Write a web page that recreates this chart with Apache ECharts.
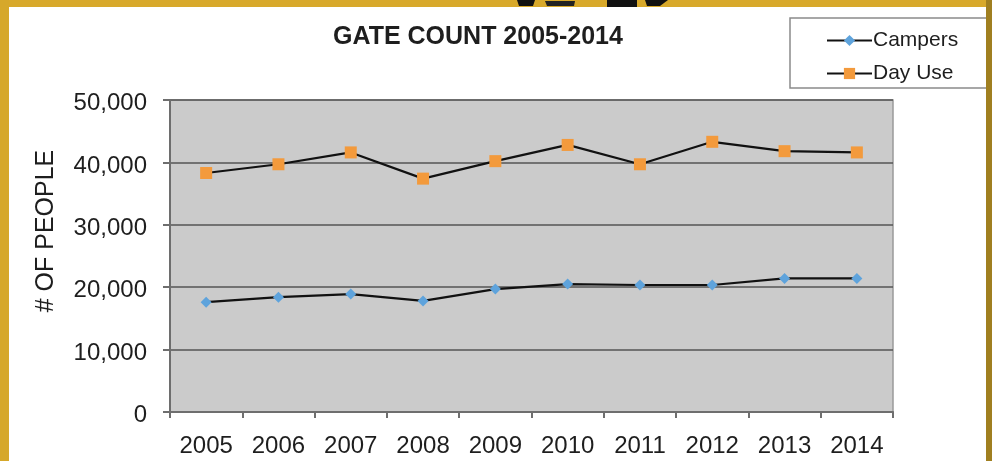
<!DOCTYPE html>
<html>
<head>
<meta charset="utf-8">
<script src="https://cdn.jsdelivr.net/npm/echarts@6/dist/echarts.min.js"></script>
<style>html,body{margin:0;padding:0;background:#fff;}#c{width:992px;height:461px;}</style>
</head>
<body>
<div id="c"></div>
<script>
const categories = ['2005','2006','2007','2008','2009','2010','2011','2012','2013','2014'];
const campers = [17600, 18400, 18900, 17800, 19700, 20500, 20350, 20350, 21400, 21400];
const dayUse = [38300, 39700, 41600, 37400, 40200, 42800, 39700, 43300, 41800, 41600];
const yTicks = [0, 10000, 20000, 30000, 40000, 50000];
const titleText = 'GATE COUNT 2005-2014';
const yName = '# OF PEOPLE';

const FONT = '"Liberation Sans", Arial, sans-serif';
const chart = echarts.init(document.getElementById('c'), null, {renderer: 'canvas'});
chart.setOption({
  backgroundColor: '#ffffff',
  animation: false,
  textStyle: {fontFamily: FONT},
  title: {
    text: titleText,
    left: 328, top: 20,
    textStyle: {fontSize: 25, fontWeight: 'bold', color: '#1e1e1e', fontFamily: FONT}
  },
  legend: {
    orient: 'vertical',
    left: 821, top: 25,
    itemWidth: 45, itemHeight: 14, itemGap: 12,
    textStyle: {fontSize: 21, color: '#1e1e1e', fontFamily: FONT, padding: [0,0,0,-4]},
    data: ['Campers', 'Day Use']
  },
  grid: {
    left: 170, right: 99, top: 100, bottom: 49,
    show: true, backgroundColor: '#cbcbcb', borderColor: '#9a9a9a', borderWidth: 1.5
  },
  xAxis: {
    type: 'category',
    data: categories,
    boundaryGap: true,
    axisLine: {lineStyle: {color: '#6e6e6e', width: 2}},
    axisTick: {show: true, length: 6, lineStyle: {color: '#6e6e6e', width: 2}},
    axisLabel: {fontSize: 24, color: '#1e1e1e', margin: 22, fontFamily: FONT, interval: 0}
  },
  yAxis: {
    type: 'value',
    min: yTicks[0], max: yTicks[yTicks.length - 1], interval: yTicks[1] - yTicks[0],
    name: yName,
    nameLocation: 'middle',
    nameGap: 111,
    nameTextStyle: {fontSize: 25, color: '#1e1e1e', fontFamily: FONT, padding: [0, 0, 0, 50]},
    axisLine: {show: true, lineStyle: {color: '#6e6e6e', width: 2}},
    axisTick: {show: true, length: 7, lineStyle: {color: '#6e6e6e', width: 2}},
    axisLabel: {margin: 23,
      formatter: v => '{a|' + v.toLocaleString('en-US') + '}',
      rich: {a: {fontSize: 24, color: '#1e1e1e', fontFamily: FONT, padding: [7, 0, 0, 0]}}},
    splitLine: {show: true, lineStyle: {color: '#555555', width: 1.5}}
  },
  series: [
    {
      name: 'Campers', type: 'line', data: campers,
      symbol: 'diamond', symbolSize: 11,
      itemStyle: {color: '#5ea3dc'},
      lineStyle: {color: '#111', width: 2.2},
      z: 3
    },
    {
      name: 'Day Use', type: 'line', data: dayUse,
      symbol: 'rect', symbolSize: 12,
      itemStyle: {color: '#f39a3c'},
      lineStyle: {color: '#111', width: 2.2},
      z: 3
    }
  ],
  graphic: [
    {type: 'rect', z: -1, shape: {x: 790, y: 18, width: 220, height: 70},
      style: {fill: '#fff', stroke: '#8a8a8a', lineWidth: 1.5}},
    {type: 'rect', z: 100, shape: {x: 0, y: 0, width: 992, height: 7}, style: {fill: '#d8a92b'}},
    {type: 'rect', z: 100, shape: {x: 0, y: 0, width: 9, height: 461}, style: {fill: '#d6a82a'}},
    {type: 'rect', z: 100, shape: {x: 986, y: 0, width: 6, height: 461}, style: {fill: '#a07f20'}},
    {type: 'polygon', z: 101, shape: {points: [[517,0],[535,0],[533,6],[519,6]]}, style: {fill: '#111'}},
    {type: 'polygon', z: 101, shape: {points: [[545,1],[575,1],[574,6],[547,6]]}, style: {fill: '#222'}},
    {type: 'rect', z: 101, shape: {x: 607, y: 0, width: 30, height: 7}, style: {fill: '#111'}},
    {type: 'polygon', z: 101, shape: {points: [[645,0],[668,0],[660,6],[647,6]]}, style: {fill: '#111'}}
  ]
});
</script>
</body>
</html>
